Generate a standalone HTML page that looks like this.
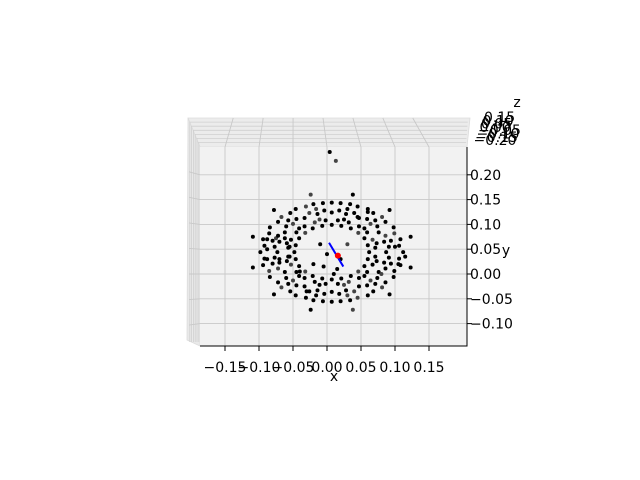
<!DOCTYPE html>
<html><head><meta charset="utf-8"><style>
html,body{margin:0;padding:0;background:#fff;}
svg{display:block;font-family:"DejaVu Sans","Liberation Sans",sans-serif;}
</style></head><body>
<svg id="chart" width="640" height="480" viewBox="0 0 640 480">
<g id="panes">
<polygon points="188,118 470,118 467,147 200,147" fill="#ececec" stroke="#dcdcdc" stroke-width="0.8"/>
<polygon points="188,118 200,147 200,346 187,340" fill="#e9e9e9" stroke="#dcdcdc" stroke-width="0.8"/>
<rect x="200" y="147" width="267" height="199" fill="#f2f2f2"/>
</g>
<g id="grid"></g>
<g id="points"></g>
<g id="axes"></g>
</svg>
<script>
const xTicks=[-0.15,-0.10,-0.05,0.00,0.05,0.10,0.15];
const yTicks=[0.20,0.15,0.10,0.05,0.00,-0.05,-0.10];
const zTickLabels=["0.15","0.10","0.05","0.00","\u22120.05","\u22120.10","\u22120.15","\u22120.20"];
const ptsX=[.062,.060,.055,.046,.035,.021,.007,-.007,-.021,-.032,-.041,-.046,-.048,-.046,-.041,-.032,-.021,-.007,.007,.021,.035,.046,.055,.060,
.087,.084,.076,.064,.047,.028,.007,-.014,-.033,-.050,-.062,-.070,-.073,-.070,-.062,-.050,-.033,-.014,.007,.028,.047,.064,.076,.084,
.112,.108,.098,.081,.060,.034,.007,-.020,-.046,-.067,-.084,-.094,-.098,-.094,-.084,-.067,-.046,-.020,.007,.034,.060,.081,.098,.108,
.123,.092,.038,-.024,-.078,-.109,-.109,-.078,-.024,.038,.092,.123,
.094,.071,.030,-.016,-.057,-.080,-.080,-.057,-.016,.030,.071,.094,
.073,.055,.025,-.011,-.041,-.059,-.059,-.041,-.011,.025,.055,.073,
-.088,-.088,-.088,-.075,-.062,-.055,-.055,-.070,
.004,.013,.000,.020,-.010,.015,-.020,.030,.010,-.005,.100,.115,.105,.080,-.030,.045,-.040,.060,
.071,.067,.059,.047,.032,.016,-.002,-.018,-.033,-.045,-.053,-.057,-.057,-.053,-.045,-.033,-.018,-.002,.016,.032,.047,.059,.067,.071,
.091,.086,.074,.059,.040,.018,-.004,-.026,-.045,-.060,-.072,-.077,-.077,-.072,-.060,-.045,-.026,-.004,.018,.040,.059,.074,.086,.091,
.106,.099,.086,.068,.045,.020,-.006,-.031,-.054,-.072,-.085,-.092,-.092,-.085,-.072,-.054,-.031,-.006,.020,.045,.068,.086,.099,.106];
const ptsY=[.044,.058,.072,.083,.092,.097,.099,.097,.092,.083,.072,.058,.044,.030,.016,.005,-.004,-.009,-.011,-.009,-.004,.005,.016,.030,
.044,.065,.084,.101,.113,.121,.124,.121,.113,.101,.084,.065,.044,.023,.004,-.013,-.025,-.033,-.036,-.033,-.025,-.013,.004,.023,
.044,.070,.094,.115,.131,.141,.144,.141,.131,.115,.094,.070,.044,.018,-.006,-.027,-.043,-.053,-.056,-.053,-.043,-.027,-.006,.018,
.075,.129,.160,.160,.129,.075,.013,-.041,-.072,-.072,-.041,.013,
.067,.108,.131,.131,.108,.067,.021,-.020,-.043,-.043,-.020,.021,
.062,.092,.110,.110,.092,.062,.026,-.004,-.022,-.022,-.004,.026,
.030,.050,.070,.072,.072,.055,.035,.030,
.246,.228,.040,.030,.060,.010,.020,.060,.000,.015,.055,.035,.020,.000,-.035,.115,.005,.125,
.053,.069,.084,.096,.104,.108,.108,.104,.096,.084,.069,.053,.035,.019,.004,-.008,-.016,-.020,-.020,-.016,-.008,.004,.019,.035,
.055,.077,.096,.111,.123,.128,.128,.123,.111,.096,.077,.055,.033,.011,-.008,-.023,-.035,-.040,-.040,-.035,-.023,-.008,.011,.033,
.057,.082,.105,.123,.136,.143,.143,.136,.123,.105,.082,.057,.031,.006,-.017,-.035,-.048,-.055,-.055,-.048,-.035,-.017,.006,.031];
const lineX=[0.003,0.024];
const lineY=[0.063,0.015];
const dotX=[0.016];
const dotY=[0.037];
const NS="http://www.w3.org/2000/svg";
function sx(v){return 327+v*680;}
function sy(v){return 274-v*496;}
function mk(tag,attrs,parent){const e=document.createElementNS(NS,tag);for(const k in attrs)e.setAttribute(k,attrs[k]);parent.appendChild(e);return e;}
const grid=document.getElementById('grid'),pts=document.getElementById('points'),axes=document.getElementById('axes');
for(let i=1;i<=6;i++){const yy=118+i*4.1;
 const l=mk('line',{x1:188+i*1.7,y1:yy,x2:468-i*0.3,y2:yy,stroke:'#d0d0d0','stroke-width':0.8},grid);
 
 
 const v=mk('line',{x1:188+i*1.8,y1:118+i*4,x2:188+i*1.8,y2:342,stroke:'#d0d0d0','stroke-width':0.8},grid);
 
 
}
xTicks.forEach(t=>{const x=sx(t);
 const g=mk('polyline',{points:(x-(x-327)*0.12-4)+',118 '+x+',147 '+x+',346',fill:'none',stroke:'#c8c8c8','stroke-width':0.9},grid);
 
 
 const tk=mk('line',{x1:x,y1:346,x2:x,y2:351,stroke:'#000','stroke-width':1},axes);
 
 
 const lb=mk('text',{x:x,y:372,'text-anchor':'middle','font-size':14,fill:'#000'},axes);
 lb.textContent=(t<0?'\u2212':'')+Math.abs(t).toFixed(2);
 
 
});
yTicks.forEach(t=>{const y=sy(t);
 const g=mk('polyline',{points:'189,'+(y-(274-y)*0.03)+' 200,'+y+' 467,'+y,fill:'none',stroke:'#c8c8c8','stroke-width':0.9},grid);
 
 
 const tk=mk('line',{x1:467,y1:y,x2:472,y2:y,stroke:'#000','stroke-width':1},axes);
 
 
 const lb=mk('text',{x:470,y:y+5,'font-size':14,fill:'#000'},axes);
 lb.textContent=(t<0?'\u2212':'')+Math.abs(t).toFixed(2);
 
 
});
ptsX.forEach((v,i)=>{
 const c=mk('circle',{cx:sx(v),cy:sy(ptsY[i]),r:2,fill:(i%6===3)?'#444':'#000'},pts);
 
 
});
const ln=mk('line',{x1:sx(lineX[0]),y1:sy(lineY[0]),x2:sx(lineX[1]),y2:sy(lineY[1]),stroke:'#0000ff','stroke-width':2},pts);


const rd=mk('circle',{cx:sx(dotX[0]),cy:sy(dotY[0]),r:3,fill:'#ff0000'},pts);


const ax1=mk('polyline',{points:'200,346 467,346 467,147',fill:'none',stroke:'#000','stroke-width':1},axes);


zTickLabels.forEach((t,i)=>{
 const lb=mk('text',{x:484-i*1.5,y:122+i*3.3,'font-size':14,fill:'#000'},axes);
 lb.textContent=t;
 
 
});
[['x',334,381,'x-axis-title'],['y',506,255,'y-axis-title'],['z',517,107,'z-axis-title']].forEach(a=>{
 const lb=mk('text',{x:a[1],y:a[2],'font-size':14,'text-anchor':'middle',fill:'#000'},axes);
 lb.textContent=a[0];
 
 
});
</script>
</body></html>
